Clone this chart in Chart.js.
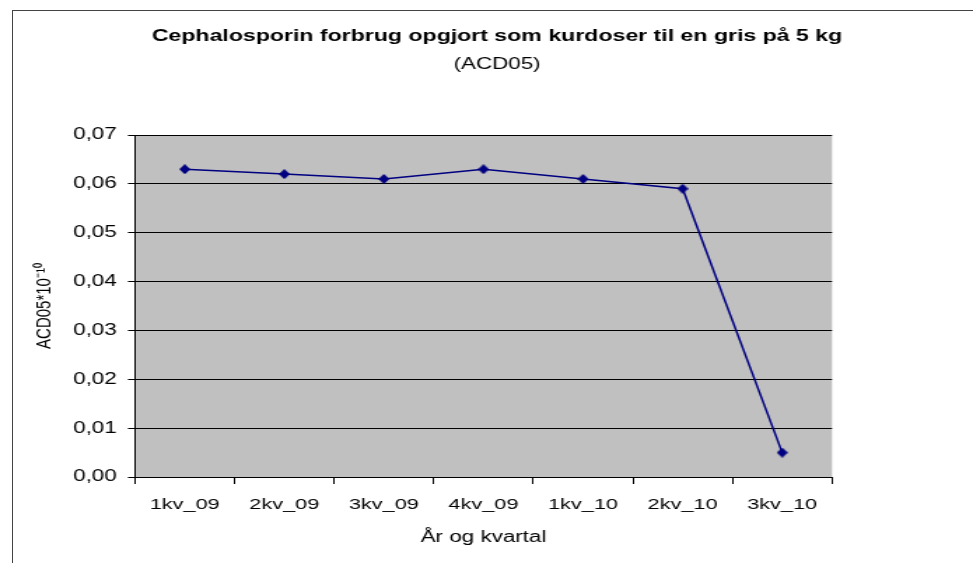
<!DOCTYPE html>
<html>
<head>
<meta charset="utf-8">
<script src="https://cdn.jsdelivr.net/npm/chart.js@4"></script>
<style>
  html, body { margin: 0; padding: 0; background: #fff; overflow: hidden; }
  #ramme { position: absolute; left: 12px; top: 10px; width: 1200px; height: 800px; border-left: 1px solid #444; border-top: 1px solid #444; }
  /* Originalen er strakt vandret, derfor skaleres lærredet i x-retningen */
  #wrap { position: absolute; left: 0; top: 0; transform: scaleX(1.4); transform-origin: 0 0; }
</style>
</head>
<body>
<div id="ramme"></div>
<div id="wrap"><canvas id="graf" width="695" height="563"></canvas></div>
<script>
// Data
const kvartaler = ['1kv_09', '2kv_09', '3kv_09', '4kv_09', '1kv_10', '2kv_10', '3kv_10'];
const acd05 = [0.063, 0.062, 0.061, 0.063, 0.061, 0.059, 0.005];
const yTicks = [0, 0.01, 0.02, 0.03, 0.04, 0.05, 0.06, 0.07];

const FONT = 'Liberation Sans, Arial, sans-serif';
const fmt = (v) => v.toFixed(2).replace('.', ',');

// Rude-markør (smallere end høj, så den ser rigtig ud efter strækningen)
function lavRude(w, h, farve) {
  const c = document.createElement('canvas');
  c.width = w; c.height = h;
  const g = c.getContext('2d');
  g.fillStyle = farve;
  g.beginPath();
  g.moveTo(w / 2, 0); g.lineTo(w, h / 2); g.lineTo(w / 2, h); g.lineTo(0, h / 2);
  g.closePath(); g.fill();
  return c;
}
const rude = lavRude(8, 10, '#000080');

// Grå baggrund i plotområdet
const plotBaggrund = {
  id: 'plotBaggrund',
  beforeDraw(chart) {
    const { ctx, chartArea: a } = chart;
    ctx.save();
    ctx.fillStyle = '#c0c0c0';
    ctx.fillRect(a.left, a.top, a.right - a.left, a.bottom - a.top);
    ctx.restore();
  }
};

new Chart(document.getElementById('graf'), {
  type: 'line',
  data: {
    labels: kvartaler,
    datasets: [{
      data: acd05,
      borderColor: '#000080',
      backgroundColor: '#000080',
      borderWidth: 1.5,
      pointStyle: rude,
      pointRadius: 5,
      tension: 0
    }]
  },
  options: {
    responsive: false,
    animation: false,
    layout: { padding: { left: 15, right: 0, top: 0, bottom: 0 } },
    plugins: {
      legend: { display: false },
      tooltip: { enabled: false },
      title: {
        display: true,
        text: 'Cephalosporin forbrug opgjort som kurdoser til en gris på 5 kg',
        color: '#000',
        font: { family: FONT, size: 16.5, weight: 'bold', lineHeight: 1.2 },
        padding: { top: 27, bottom: 8 }
      },
      subtitle: {
        display: true,
        text: '(ACD05)',
        color: '#000',
        font: { family: FONT, size: 16, lineHeight: 1.2 },
        padding: { top: 0, bottom: 61 }
      }
    },
    scales: {
      x: {
        offset: true,
        grid: { offset: true, drawOnChartArea: false, drawTicks: true, tickLength: 7, color: '#000' },
        border: { color: '#000', width: 1 },
        ticks: { color: '#000', padding: 11, font: { family: FONT, size: 15.5 }, maxRotation: 0, autoSkip: false },
        title: {
          display: true,
          text: 'År og kvartal',
          color: '#000',
          font: { family: FONT, size: 16, lineHeight: 1.2 },
          padding: { top: 0, bottom: 16 }
        },
        afterFit(s) { s.height = 86; }
      },
      y: {
        min: 0,
        max: 0.07,
        afterBuildTicks(s) { s.ticks = yTicks.map(v => ({ value: v })); },
        grid: { color: '#000', tickLength: 5, lineWidth: 1 },
        border: { color: '#000', width: 1 },
        ticks: { color: '#000', padding: 8, font: { family: FONT, size: 16 }, callback: (v) => fmt(v) },
        title: {
          display: true,
          text: 'ACD05*10⁻¹⁰',
          color: '#000',
          font: { family: FONT, size: 15, lineHeight: 1.2 },
          padding: { top: 8, bottom: 0 }
        },
        afterFit(s) { s.width = 81.4; }
      },
      // tom akse til højre, så titlen centreres som i originalen
      yR: {
        position: 'right',
        grid: { display: false },
        border: { display: false },
        ticks: { display: false },
        afterFit(s) { s.width = 100.7; }
      }
    }
  },
  plugins: [plotBaggrund]
});
</script>
</body>
</html>
